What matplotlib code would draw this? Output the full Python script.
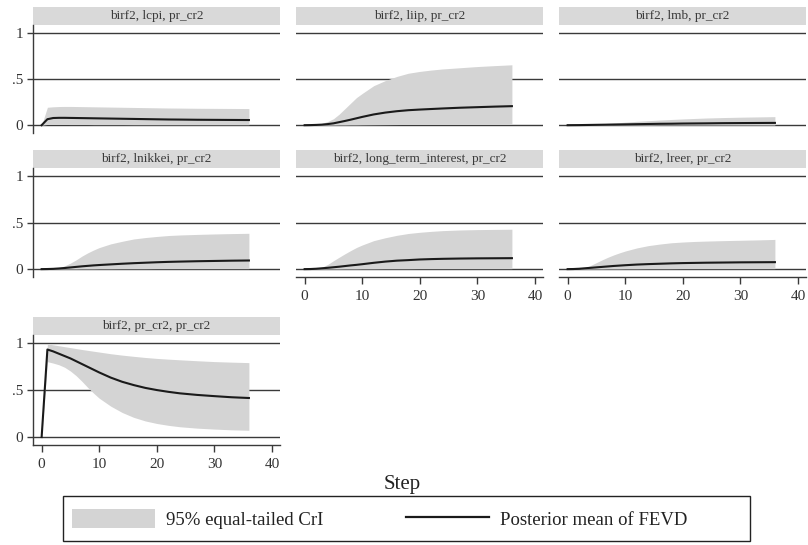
import matplotlib
matplotlib.use("Agg")
import matplotlib.pyplot as plt
from matplotlib.patches import Rectangle, Patch
from matplotlib.lines import Line2D

plt.rcParams['font.family'] = ['Liberation Serif', 'DejaVu Serif']

steps = [0, 1, 2, 3, 4, 5, 6, 7, 8, 9, 10, 12, 14, 16, 18, 20, 22, 24, 27, 30, 33, 36]

titles = ["birf2, lcpi, pr_cr2", "birf2, liip, pr_cr2", "birf2, lmb, pr_cr2",
          "birf2, lnikkei, pr_cr2", "birf2, long_term_interest, pr_cr2",
          "birf2, lreer, pr_cr2", "birf2, pr_cr2, pr_cr2"]

# lcpi
lcpi_mean = [0, 0.065, 0.078, 0.080, 0.080, 0.079, 0.078, 0.077, 0.076, 0.075, 0.074, 0.072, 0.070, 0.068, 0.066, 0.064, 0.062, 0.061, 0.059, 0.058, 0.057, 0.056]
lcpi_up = [0, 0.195, 0.200, 0.203, 0.204, 0.204, 0.203, 0.202, 0.201, 0.200, 0.199, 0.197, 0.195, 0.193, 0.191, 0.189, 0.187, 0.186, 0.184, 0.183, 0.182, 0.181]
lcpi_lo = [0, 0.008, 0.008, 0.008, 0.008, 0.007, 0.007, 0.007, 0.007, 0.006, 0.006, 0.006, 0.006, 0.005, 0.005, 0.005, 0.005, 0.005, 0.005, 0.005, 0.005, 0.005]
# liip
liip_mean = [0, 0.001, 0.003, 0.006, 0.012, 0.020, 0.033, 0.046, 0.060, 0.075, 0.090, 0.117, 0.137, 0.152, 0.163, 0.170, 0.176, 0.182, 0.190, 0.196, 0.202, 0.207]
liip_up = [0, 0.002, 0.008, 0.020, 0.040, 0.070, 0.120, 0.180, 0.240, 0.300, 0.345, 0.430, 0.485, 0.530, 0.565, 0.585, 0.600, 0.612, 0.625, 0.638, 0.648, 0.657]
liip_lo = [0, 0.000, 0.000, 0.000, 0.001, 0.001, 0.002, 0.002, 0.003, 0.003, 0.004, 0.005, 0.006, 0.007, 0.008, 0.008, 0.009, 0.009, 0.010, 0.010, 0.010, 0.010]
# lmb
lmb_mean = [0, 0.0005, 0.001, 0.002, 0.003, 0.004, 0.005, 0.006, 0.007, 0.008, 0.009, 0.011, 0.013, 0.015, 0.016, 0.018, 0.019, 0.020, 0.022, 0.023, 0.024, 0.025]
lmb_up = [0, 0.001, 0.002, 0.004, 0.008, 0.012, 0.016, 0.020, 0.024, 0.028, 0.033, 0.042, 0.049, 0.056, 0.062, 0.068, 0.073, 0.078, 0.083, 0.087, 0.090, 0.093]
lmb_lo = [0, 0, 0, 0, 0, 0, 0, 0, 0.001, 0.001, 0.001, 0.001, 0.001, 0.002, 0.002, 0.002, 0.002, 0.002, 0.002, 0.002, 0.002, 0.002]
# lnikkei
lnik_mean = [0, 0.001, 0.003, 0.007, 0.012, 0.018, 0.024, 0.030, 0.035, 0.040, 0.044, 0.051, 0.058, 0.064, 0.069, 0.074, 0.078, 0.081, 0.085, 0.088, 0.091, 0.093]
lnik_up = [0, 0.001, 0.005, 0.015, 0.035, 0.065, 0.100, 0.140, 0.175, 0.205, 0.232, 0.272, 0.300, 0.325, 0.340, 0.352, 0.362, 0.368, 0.374, 0.379, 0.383, 0.386]
lnik_lo = [0, 0, 0, 0, 0.001, 0.001, 0.001, 0.002, 0.002, 0.002, 0.003, 0.003, 0.004, 0.004, 0.004, 0.005, 0.005, 0.005, 0.005, 0.005, 0.005, 0.005]
# long_term_interest
lti_mean = [0, 0.001, 0.004, 0.009, 0.014, 0.020, 0.026, 0.033, 0.040, 0.046, 0.053, 0.068, 0.081, 0.091, 0.097, 0.104, 0.108, 0.111, 0.114, 0.116, 0.117, 0.118]
lti_up = [0, 0.002, 0.008, 0.020, 0.050, 0.090, 0.128, 0.165, 0.200, 0.233, 0.260, 0.307, 0.338, 0.364, 0.384, 0.397, 0.407, 0.415, 0.422, 0.426, 0.428, 0.430]
lti_lo = [0, 0, 0, 0, 0.001, 0.001, 0.001, 0.002, 0.002, 0.002, 0.003, 0.003, 0.004, 0.004, 0.004, 0.005, 0.005, 0.005, 0.005, 0.005, 0.005, 0.005]
# lreer
lreer_mean = [0, 0.001, 0.004, 0.009, 0.014, 0.019, 0.024, 0.029, 0.034, 0.038, 0.042, 0.049, 0.054, 0.058, 0.062, 0.065, 0.067, 0.069, 0.071, 0.073, 0.074, 0.075]
lreer_up = [0, 0.001, 0.004, 0.015, 0.040, 0.070, 0.100, 0.128, 0.153, 0.175, 0.195, 0.228, 0.253, 0.270, 0.284, 0.292, 0.298, 0.302, 0.307, 0.311, 0.315, 0.320]
lreer_lo = [0, 0, 0, 0, 0.001, 0.001, 0.001, 0.002, 0.002, 0.002, 0.003, 0.003, 0.004, 0.004, 0.004, 0.005, 0.005, 0.005, 0.005, 0.005, 0.005, 0.005]
# pr_cr2
pr_mean = [0, 0.935, 0.915, 0.890, 0.865, 0.840, 0.810, 0.780, 0.750, 0.720, 0.690, 0.635, 0.590, 0.555, 0.525, 0.502, 0.483, 0.467, 0.450, 0.437, 0.425, 0.417]
pr_up = [0, 0.995, 0.985, 0.975, 0.965, 0.955, 0.945, 0.935, 0.926, 0.917, 0.908, 0.890, 0.875, 0.862, 0.850, 0.840, 0.832, 0.825, 0.815, 0.806, 0.800, 0.795]
pr_lo = [0, 0.805, 0.790, 0.772, 0.745, 0.705, 0.655, 0.595, 0.530, 0.470, 0.415, 0.330, 0.262, 0.210, 0.172, 0.145, 0.125, 0.110, 0.095, 0.085, 0.077, 0.072]

means = [lcpi_mean, liip_mean, lmb_mean, lnik_mean, lti_mean, lreer_mean, pr_mean]
uppers = [lcpi_up, liip_up, lmb_up, lnik_up, lti_up, lreer_up, pr_up]
lowers = [lcpi_lo, liip_lo, lmb_lo, lnik_lo, lti_lo, lreer_lo, pr_lo]

ytick_vals = [0, 0.5, 1]
ytick_labels = ["0", ".5", "1"]
xtick_vals = [0, 10, 20, 30, 40]

W, H = 808, 545
fig = plt.figure(figsize=(W / 100, H / 100), dpi=100)

col_left = [33, 296, 559]
col_w = 247
rows = [(25, 133), (168, 277), (335, 445)]
strip_h = 18

band_c = '#d4d4d4'
line_c = '#1a1a1a'
grid_c = '#3a3a3a'
strip_c = '#d9d9d9'

bottom_panels = {4, 5, 6}

for i, title in enumerate(titles):
    r, c = divmod(i, 3)
    top, bot = rows[r]
    ax = fig.add_axes([col_left[c] / W, 1 - bot / H, col_w / W, (bot - top) / H])
    ax.set_xlim(-1.5, 41.4)
    ax.set_ylim(-0.085, 1.09)
    for yv in ytick_vals:
        ax.axhline(yv, color=grid_c, lw=1.0, zorder=0.5)
    ax.fill_between(steps, lowers[i], uppers[i], color=band_c, lw=0, zorder=1)
    ax.plot(steps, means[i], color=line_c, lw=1.5, zorder=2)
    for s in ax.spines.values():
        s.set_visible(False)
    ph = bot - top
    ax.add_patch(Rectangle((0, 1), 1, strip_h / ph, transform=ax.transAxes,
                           color=strip_c, clip_on=False, lw=0))
    ax.text(0.5, 1 + strip_h / ph / 2, title, transform=ax.transAxes,
            ha='center', va='center', fontsize=9.5, color='#3a3a3a')
    if c == 0:
        ax.spines['left'].set_visible(True)
        ax.spines['left'].set_color(grid_c)
        ax.spines['left'].set_linewidth(1.0)
        ax.set_yticks(ytick_vals)
        ax.set_yticklabels(ytick_labels)
        ax.tick_params(axis='y', length=4, width=1, color=grid_c, labelsize=11,
                       labelcolor='#333333', pad=3)
    else:
        ax.set_yticks([])
    if i in bottom_panels:
        ax.spines['bottom'].set_visible(True)
        ax.spines['bottom'].set_color(grid_c)
        ax.spines['bottom'].set_linewidth(1.0)
        ax.set_xticks(xtick_vals)
        ax.set_xticklabels([str(v) for v in xtick_vals])
        ax.tick_params(axis='x', length=5, width=1, color=grid_c, labelsize=11,
                       labelcolor='#333333', pad=4)
    else:
        ax.set_xticks([])
    ax.patch.set_alpha(0)

fig.text(402 / W, 1 - 485 / H, "Step", ha='center', va='center', fontsize=15, color='#222222')

# legend frame
fig.add_artist(Rectangle((63 / W, 1 - 541 / H), 687 / W, 45 / H,
                         transform=fig.transFigure, fill=False,
                         edgecolor='#222222', lw=1.0))
handles = [Patch(facecolor=band_c, edgecolor='none'),
           Line2D([0], [0], color=line_c, lw=1.6)]
labels = ["95% equal-tailed CrI", "Posterior mean of FEVD"]
leg = fig.legend(handles, labels, loc='center left',
                 bbox_to_anchor=(72 / W, 1 - 519 / H),
                 ncol=2, frameon=False, fontsize=13.5, handlelength=4.4,
                 handleheight=1.2, handletextpad=0.62, borderaxespad=0,
                 borderpad=0, columnspacing=4.4)
for t in leg.get_texts():
    t.set_color('#222222')

fig.savefig("out.png", dpi=100, facecolor='white')
